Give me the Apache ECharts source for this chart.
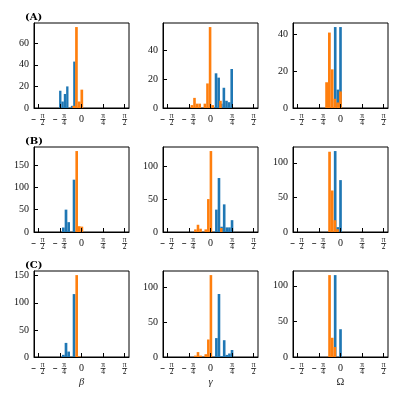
<!DOCTYPE html>
<html>
<head>
<meta charset="utf-8">
<script src="https://cdn.jsdelivr.net/npm/echarts@6/dist/echarts.min.js"></script>
<style>
  html, body { margin: 0; padding: 0; background: #fff; }
  #main { width: 399px; height: 399px; }
</style>
</head>
<body>
<div id="main"></div>
<script>
var rowTags = ['(A)', '(B)', '(C)'];
var colNames = ['β', 'γ', 'Ω'];
var xTicks = [-Math.PI / 2, -Math.PI / 4, 0, Math.PI / 4, Math.PI / 2];
var yIntervals = [20, 20, 20, 50, 50, 50, 50, 50, 50];

// histogram counts, and [first bin edge, bin width] for each one
var betaA_blue = [16, 6, 13, 20, 0, 2, 43];
var betaA_blueBin = [-0.815, 0.0855];
var betaA_orange = [2, 75, 6, 17];
var betaA_orangeBin = [-0.33, 0.0975];
var gammaA_blue = [24, 21, 3, 14, 5, 4, 27];
var gammaA_blueBin = [0.154, 0.095];
var gammaA_orange = [2, 7, 3, 3, 0, 3, 17, 56, 2, 0, 0, 5];
var gammaA_orangeBin = [-0.724, 0.0945];
var omegaA_blue = [44, 10, 44];
var omegaA_blueBin = [-0.24, 0.096];
var omegaA_orange = [14, 41, 21, 5, 3, 9];
var omegaA_orangeBin = [-0.556, 0.101];

var betaB_blue = [10, 50, 22, 0, 117];
var betaB_blueBin = [-0.71, 0.0975];
var betaB_orange = [181, 13, 12];
var betaB_orangeBin = [-0.2225, 0.095];
var gammaB_blue = [34, 82, 8, 42, 7, 7, 18];
var gammaB_blueBin = [0.166, 0.095];
var gammaB_orange = [4, 11, 5, 0, 4, 50, 123, 0, 0, 0, 6];
var gammaB_orangeBin = [-0.596, 0.094];
var omegaB_blue = [117, 7, 75];
var omegaB_blueBin = [-0.242, 0.097];
var omegaB_orange = [116, 60, 17, 4];
var omegaB_orangeBin = [-0.447, 0.097];

var betaC_blue = [4, 26, 10, 0, 116];
var betaC_blueBin = [-0.71, 0.0975];
var betaC_orange = [151, 1];
var betaC_orangeBin = [-0.2225, 0.095];
var gammaC_blue = [27, 90, 1, 24, 3, 5, 10];
var gammaC_blueBin = [0.166, 0.095];
var gammaC_orange = [2, 7, 2, 0, 4, 25, 117];
var gammaC_orangeBin = [-0.596, 0.094];
var omegaC_blue = [115, 0, 39];
var omegaC_blueBin = [-0.242, 0.097];
var omegaC_orange = [115, 27, 14];
var omegaC_orangeBin = [-0.447, 0.097];

var panels = [
  [betaA_blue, betaA_blueBin, betaA_orange, betaA_orangeBin],
  [gammaA_blue, gammaA_blueBin, gammaA_orange, gammaA_orangeBin],
  [omegaA_blue, omegaA_blueBin, omegaA_orange, omegaA_orangeBin],
  [betaB_blue, betaB_blueBin, betaB_orange, betaB_orangeBin],
  [gammaB_blue, gammaB_blueBin, gammaB_orange, gammaB_orangeBin],
  [omegaB_blue, omegaB_blueBin, omegaB_orange, omegaB_orangeBin],
  [betaC_blue, betaC_blueBin, betaC_orange, betaC_orangeBin],
  [gammaC_blue, gammaC_blueBin, gammaC_orange, gammaC_orangeBin],
  [omegaC_blue, omegaC_blueBin, omegaC_orange, omegaC_orangeBin]
];

var BLUE = '#1f77b4';
var ORANGE = '#ff7f0e';
var FONT = 'Liberation Serif';

var gridLefts = [34, 163, 293];
var gridTops = [23, 147, 271];
var gridHeights = [85, 85, 86];

function toBars(counts, bin) {
  var out = [];
  for (var i = 0; i < counts.length; i++) {
    out.push([bin[0] + i * bin[1], bin[0] + (i + 1) * bin[1], counts[i]]);
  }
  return out;
}

function renderBar(params, api) {
  var top = api.coord([api.value(0), api.value(2)]);
  var bottom = api.coord([api.value(1), 0]);
  return {
    type: 'rect',
    shape: { x: top[0], y: top[1], width: bottom[0] - top[0], height: bottom[1] - top[1] },
    style: { fill: api.visual('color') }
  };
}

// pi fractions drawn as little stacked rich text
function xLabel(v) {
  var k = Math.round(v / (Math.PI / 4));
  if (k === 0) return '{z|0}';
  var den = Math.abs(k) === 2 ? '2' : '4';
  if (k < 0) return '{s| }{n|π}\n{m| }{g| }{b| }\n{s| }{n|' + den + '}';
  return '{n|π}\n{b| }\n{n|' + den + '}';
}

var xRich = {
  z: { fontSize: 10, fontFamily: FONT, color: '#111', lineHeight: 11 },
  s: { width: 8.5, fontSize: 1, lineHeight: 4.5 },
  n: { width: 5, align: 'center', fontSize: 7.5, fontFamily: FONT, color: '#111', lineHeight: 4.5 },
  m: { width: 4, height: 0.8, fontSize: 1, lineHeight: 2, backgroundColor: '#222' },
  g: { width: 4.5, height: 0.8, fontSize: 1, lineHeight: 2 },
  b: { width: 5, height: 0.8, fontSize: 1, lineHeight: 2, backgroundColor: '#222' }
};

var grids = [], xAxes = [], yAxes = [], series = [], titles = [];

panels.forEach(function (p, idx) {
  var r = Math.floor(idx / 3), c = idx % 3;
  var ymax = 1.05 * Math.max(Math.max.apply(null, p[0]), Math.max.apply(null, p[2]));
  var step = yIntervals[idx];
  grids.push({
    left: gridLefts[c], top: gridTops[r], width: 95, height: gridHeights[r],
    show: true, borderColor: '#000', borderWidth: 1, backgroundColor: 'transparent'
  });
  xAxes.push({
    gridIndex: idx, type: 'value', min: -1.728, max: 1.728, z: 5,
    name: r === 2 ? colNames[c] : '',
    nameLocation: 'middle', nameGap: 19,
    nameTextStyle: { fontSize: 10.5, fontFamily: FONT, color: '#222', fontStyle: c === 2 ? 'normal' : 'italic' },
    axisLine: { show: true, onZero: false, lineStyle: { color: '#000', width: 1 } },
    axisTick: { show: true, inside: true, length: 4, customValues: xTicks, lineStyle: { color: '#000', width: 1 } },
    axisLabel: { customValues: xTicks, margin: 6, formatter: xLabel, rich: xRich },
    splitLine: { show: false }
  });
  yAxes.push({
    gridIndex: idx, type: 'value', min: 0, max: ymax, interval: step, z: 5,
    axisLine: { show: true, onZero: false, lineStyle: { color: '#000', width: 1 } },
    axisTick: { show: true, inside: true, length: 4, lineStyle: { color: '#000', width: 1 } },
    axisLabel: {
      margin: 5, fontSize: 10, fontFamily: FONT, color: '#111', showMaxLabel: false,
      formatter: function (v) { return v % step === 0 ? String(v) : ''; }
    },
    splitLine: { show: false }
  });
  series.push({
    type: 'custom', xAxisIndex: idx, yAxisIndex: idx, z: 2,
    renderItem: renderBar, itemStyle: { color: BLUE },
    encode: { x: [0, 1], y: 2 }, data: toBars(p[0], p[1])
  });
  series.push({
    type: 'custom', xAxisIndex: idx, yAxisIndex: idx, z: 3,
    renderItem: renderBar, itemStyle: { color: ORANGE },
    encode: { x: [0, 1], y: 2 }, data: toBars(p[2], p[3])
  });
});

rowTags.forEach(function (t, r) {
  titles.push({
    text: t, left: 25, top: gridTops[r] - 11, padding: 0,
    textStyle: { fontSize: 10, fontWeight: 'bold', fontFamily: 'DejaVu Serif', color: '#000' }
  });
});

var chart = echarts.init(document.getElementById('main'));
chart.setOption({
  animation: false,
  backgroundColor: '#fff',
  title: titles,
  grid: grids,
  xAxis: xAxes,
  yAxis: yAxes,
  series: series
});
</script>
</body>
</html>
